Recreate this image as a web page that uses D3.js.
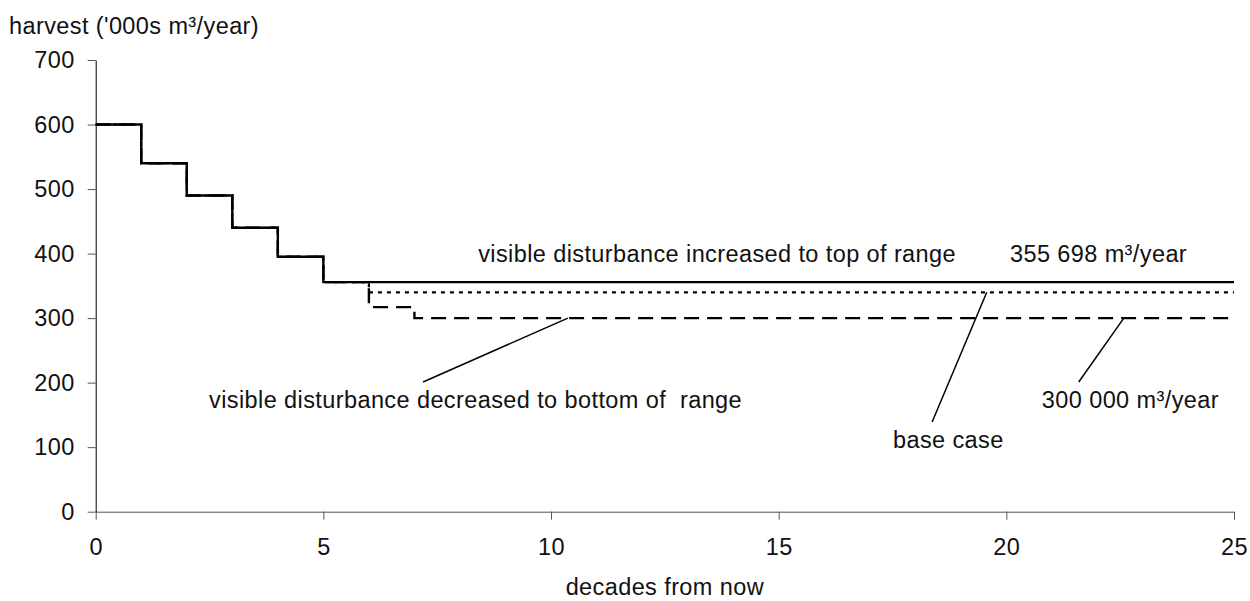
<!DOCTYPE html>
<html>
  <head>
    <meta http-equiv="Content-Type" content="text/html;charset=utf-8"/>
    <title>Harvest projection</title>
    <script src="https://d3js.org/d3.v7.min.js"></script>
    <style>
      body { margin: 0; background: #fff; }
      text { font-family: "Liberation Sans", Arial, sans-serif; font-size: 23.5px; letter-spacing: 0.4px; fill: #111; }
    </style>
  </head>
  <body>
    <div id="content"></div>
    <script type="text/javascript">

        // decades from now, where each harvest level starts
        const decades = [0, 1, 2, 3, 4, 5, 6, 7, 25]

        // harvest in '000s m3/year
        const topOfRange = [600, 540, 490, 440, 395, 355.698, 355.698, 355.698, 355.698]
        const baseCase = [600, 540, 490, 440, 395, 355.698, 340, 340, 340]
        const bottomOfRange = [600, 540, 490, 440, 395, 355.698, 317, 300, 300]

        const yTicks = [0, 100, 200, 300, 400, 500, 600, 700]
        const xTicks = [0, 5, 10, 15, 20, 25]

        // annotation texts and leader lines, in chart units
        const labelText = [
            'visible disturbance increased to top of range',
            '355 698 m\u00b3/year',
            'visible disturbance decreased to bottom of \u00a0range',
            'base case',
            '300 000 m\u00b3/year'
        ]
        const labelX = [8.4, 20.08, 2.49, 17.51, 20.78]
        const labelY = [387, 387, 160.7, 98.7, 160.7]

        const leaderFrom = [[10.37, 300], [19.57, 340], [22.58, 300]]
        const leaderTo = [[7.19, 201], [18.37, 139], [21.59, 201]]

        const width = 1250,
            height = 601,
            plotLeft = 95.7,
            plotRight = 1234,
            plotTop = 60,
            plotBottom = 511.7

        const svg = d3.select('#content').append('svg').attr('width', width).attr('height', height)

        const xScale = d3.scaleLinear().domain([0, 25]).range([plotLeft, plotRight])
        const yScale = d3.scaleLinear().domain([0, 700]).range([plotBottom, plotTop])

        const xAxis = d3.axisBottom(xScale).tickValues(xTicks).tickSize(8).tickSizeOuter(0).tickPadding(19)
        const yAxis = d3.axisLeft(yScale).tickValues(yTicks).tickSize(8).tickSizeOuter(0).tickPadding(13)

        const gx = svg.append('g')
            .attr('transform', 'translate(0,' + plotBottom + ')')
            .call(xAxis)
        gx.select('.domain').attr('stroke', '#555')
        gx.selectAll('.tick line').attr('stroke', '#555')

        const gy = svg.append('g')
            .attr('transform', 'translate(' + plotLeft + ',0)')
            .call(yAxis)
        gy.select('.domain').attr('stroke', '#000')
        gy.selectAll('.tick line').attr('stroke', '#555')

        svg.selectAll('.tick text').attr('fill', '#111')
        svg.selectAll('g').attr('font-size', null).attr('font-family', null)

        svg.append('text')
            .attr('x', 9)
            .attr('y', 34)
            .text("harvest ('000s m\u00b3/year)")

        svg.append('text')
            .attr('x', (plotLeft + plotRight) / 2)
            .attr('y', 595)
            .attr('text-anchor', 'middle')
            .text('decades from now')

        const line = d3.line()
            .x(d => xScale(d[0]))
            .y(d => yScale(d[1]))
            .curve(d3.curveStepAfter)

        const series = [
            { values: bottomOfRange, dash: '15,8', w: 2.4 },
            { values: baseCase, dash: '4,5', w: 2.2 },
            { values: topOfRange, dash: null, w: 2.4 }
        ]

        series.forEach(s => {
            svg.append('path')
                .datum(decades.map((d, i) => [d, s.values[i]]))
                .attr('d', line)
                .attr('fill', 'none')
                .attr('stroke', '#000')
                .attr('stroke-width', s.w)
                .attr('stroke-dasharray', s.dash)
        })

        leaderFrom.forEach((p, i) => {
            svg.append('line')
                .attr('x1', xScale(p[0]))
                .attr('y1', yScale(p[1]))
                .attr('x2', xScale(leaderTo[i][0]))
                .attr('y2', yScale(leaderTo[i][1]))
                .attr('stroke', '#000')
                .attr('stroke-width', 1.5)
        })

        labelText.forEach((t, i) => {
            svg.append('text')
                .attr('x', xScale(labelX[i]))
                .attr('y', yScale(labelY[i]))
                .text(t)
        })

    </script>
  </body>
</html>
